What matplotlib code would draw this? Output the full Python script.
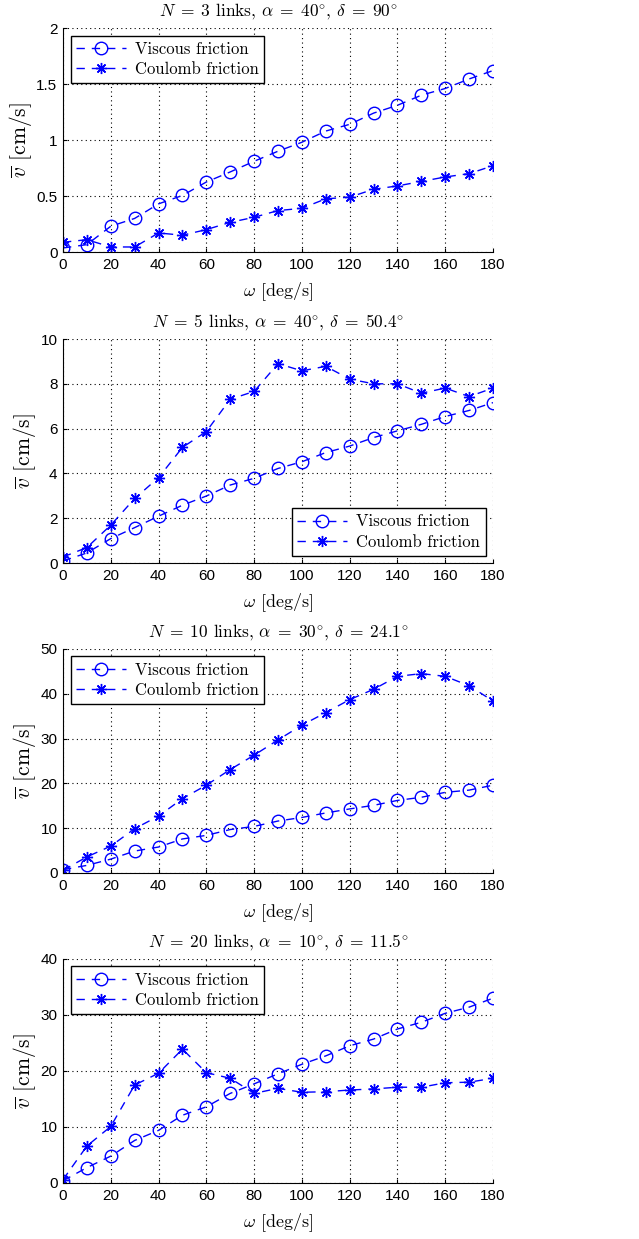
import matplotlib
matplotlib.use('Agg')
import matplotlib.pyplot as plt

plt.rcParams['mathtext.fontset'] = 'cm'
plt.rcParams['font.family'] = ['Liberation Sans', 'DejaVu Sans']

omega = [0, 10, 20, 30, 40, 50, 60, 70, 80, 90, 100, 110, 120, 130, 140, 150, 160, 170, 180]

# N = 3
visc_3 = [0.036, 0.066, 0.23, 0.30, 0.43, 0.505, 0.625, 0.715, 0.81, 0.90, 0.98, 1.08, 1.14, 1.24,
          1.31, 1.40, 1.46, 1.545, 1.62]
coul_3 = [0.087, 0.11, 0.045, 0.045, 0.17, 0.15, 0.20, 0.265, 0.31, 0.37, 0.39, 0.475, 0.49, 0.56,
          0.59, 0.63, 0.67, 0.70, 0.77]
# N = 5
visc_5 = [0.09, 0.45, 1.09, 1.58, 2.09, 2.58, 2.99, 3.48, 3.78, 4.22, 4.52, 4.93, 5.22, 5.6,
          5.9, 6.19, 6.54, 6.81, 7.16]
coul_5 = [0.27, 0.69, 1.69, 2.88, 3.81, 5.16, 5.87, 7.31, 7.66, 8.9, 8.58, 8.78, 8.21, 8.0,
          8.0, 7.58, 7.81, 7.43, 7.81]
# N = 10
visc_10 = [0.75, 1.7, 3.1, 4.9, 5.8, 7.6, 8.4, 9.7, 10.4, 11.6, 12.4, 13.4, 14.3, 15.1,
           16.2, 16.9, 18.0, 18.5, 19.6]
coul_10 = [0.6, 3.6, 6.0, 9.9, 12.7, 16.6, 19.6, 23.1, 26.3, 29.7, 33.0, 35.8, 38.7, 41.0,
           43.9, 44.5, 43.9, 41.8, 38.4]
# N = 20
visc_20 = [0.4, 2.75, 4.8, 7.6, 9.4, 12.1, 13.6, 16.0, 17.7, 19.5, 21.2, 22.7, 24.5, 25.7,
           27.5, 28.7, 30.3, 31.4, 33.0]
coul_20 = [0.6, 6.6, 10.1, 17.5, 19.6, 23.9, 19.7, 18.7, 16.0, 16.9, 16.2, 16.3, 16.6, 16.8,
           17.1, 17.1, 17.9, 18.0, 18.7]

titles = [r'$N\;=\;3$ links, $\alpha\;=\;40^{\circ}$, $\delta\;=\;90^{\circ}$',
          r'$N\;=\;5$ links, $\alpha\;=\;40^{\circ}$, $\delta\;=\;50.4^{\circ}$',
          r'$N\;=\;10$ links, $\alpha\;=\;30^{\circ}$, $\delta\;=\;24.1^{\circ}$',
          r'$N\;=\;20$ links, $\alpha\;=\;10^{\circ}$, $\delta\;=\;11.5^{\circ}$']
visc_all = [visc_3, visc_5, visc_10, visc_20]
coul_all = [coul_3, coul_5, coul_10, coul_20]
ymax_all = [2, 10, 50, 40]
yticks_all = [[0, 0.5, 1, 1.5, 2], [0, 2, 4, 6, 8, 10], [0, 10, 20, 30, 40, 50], [0, 10, 20, 30, 40]]
ytick_labels_all = [['0', '0.5', '1', '1.5', '2'], None, None, None]
legend_loc = ['upper left', 'lower right', 'upper left', 'upper left']

fig = plt.figure(figsize=(6.39, 12.39), dpi=100)
bottoms = [0.7966, 0.5456, 0.2954, 0.0452]
H = 224 / 1239

serif = {'family': 'cmr10'}
for i in range(4):
    ax = fig.add_axes([63 / 639, bottoms[i], 430 / 639, H])
    ax.plot(omega, visc_all[i], color='blue', ls=(0, (6, 5)), lw=1.0, marker='o',
            ms=9, mfc='none', mec='blue', mew=1.0, label='Viscous friction')
    ax.plot(omega, coul_all[i], color='blue', ls=(0, (6, 5)), lw=1.0, marker=(8, 2, 0),
            ms=8, mec='blue', mew=1.0, label='Coulomb friction')
    ax.set_xlim(0, 180)
    ax.set_ylim(0, ymax_all[i])
    ax.set_xticks(range(0, 181, 20))
    ax.set_yticks(yticks_all[i])
    if ytick_labels_all[i] is not None:
        ax.set_yticklabels(ytick_labels_all[i])
    ax.grid(True, color='black', ls=(0, (1, 3)), lw=0.8)
    ax.spines['top'].set_visible(False)
    ax.spines['right'].set_visible(False)
    ax.tick_params(direction='in', length=3, labelsize=11, pad=4)
    ax.set_title(titles[i], fontsize=12.5, fontdict=serif, pad=9)
    ax.set_xlabel(r'$\omega$ [deg/s]', fontsize=13, fontdict=serif, labelpad=6)
    ax.set_ylabel(r'$\overline{v}$ [cm/s]', fontsize=15.5, fontdict=serif, labelpad=2)
    leg = ax.legend(loc=legend_loc[i], fancybox=False, edgecolor='black', framealpha=1,
                    handlelength=3.0, handletextpad=0.5, borderaxespad=0.45,
                    prop={'family': 'cmr10', 'size': 12}, labelspacing=0.3, borderpad=0.35)
    leg.get_frame().set_linewidth(1.0)

fig.savefig('out.png', dpi=100)
